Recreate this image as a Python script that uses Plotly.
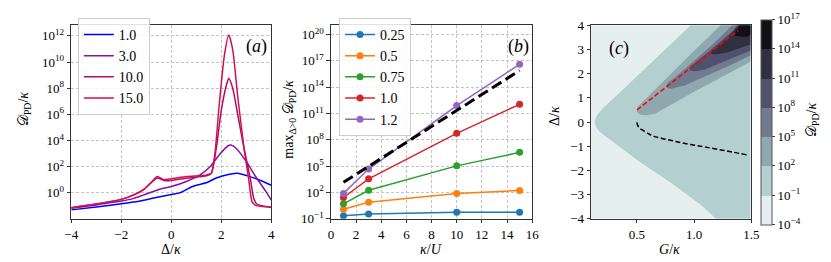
import plotly.graph_objects as go

W, H = 831, 262

# ---------------- Panel (a) data: log10 of D_PD/kappa vs Delta/kappa ----------------
a_labels = ["1.0", "3.0", "10.0", "15.0"]
a_colors = ["#0000ff", "#8a12a0", "#b40a70", "#d2104f"]
a_x_1 = [-4, -3, -2, -1.5, -1, -0.5, 0, 0.3, 0.4, 0.6, 0.8, 1.0, 1.4, 1.8, 2.2, 2.65, 3.05, 3.5, 4.0]
a_log_1 = [-1.30, -1.08, -0.84, -0.70, -0.52, -0.32, -0.12, -0.02, 0.05, 0.25, 0.45, 0.58, 0.77, 1.13, 1.37, 1.49, 1.30, 1.0, 0.58]
a_x_3 = [-4, -3, -2, -1.5, -1.08, -0.43, 0, 0.63, 1.15, 1.54, 1.93, 2.26, 2.39, 2.59, 2.98, 3.37, 3.76, 4.0]
a_log_3 = [-1.18, -0.92, -0.63, -0.42, -0.14, 0.29, 0.48, 0.89, 1.37, 1.97, 2.93, 3.58, 3.65, 3.41, 2.45, 1.25, 0.17, -0.55]
a_x_10 = [-4, -3, -2, -1.48, -1.08, -0.76, -0.56, -0.3, 0, 0.63, 1.41, 1.6, 1.8, 2.0, 2.2, 2.3, 2.46, 2.65, 2.91, 3.17, 3.3, 3.43, 4.0]
a_log_10 = [-1.13, -0.85, -0.5, -0.14, 0.29, 0.85, 1.13, 0.95, 0.94, 1.13, 1.30, 1.49, 3.41, 6.3, 8.2, 8.75, 7.98, 6.06, 3.41, 1.0, -0.43, -0.87, -1.1]
a_x_15 = [-4, -3, -2, -1.48, -1.08, -0.76, -0.56, -0.3, 0, 0.63, 1.41, 1.6, 1.74, 1.93, 2.13, 2.3, 2.46, 2.65, 2.91, 3.1, 3.23, 3.37, 4.0]
a_log_15 = [-1.13, -0.85, -0.5, -0.14, 0.29, 0.89, 1.25, 1.0, 1.08, 1.25, 1.37, 1.49, 2.93, 7.0, 10.6, 12.07, 10.9, 7.5, 3.41, 1.0, -0.67, -0.96, -1.1]
a_ticks = [0, 2, 4, 6, 8, 10, 12]

# ---------------- Panel (b) data: log10 of max D_PD/kappa vs kappa/U ----------------
b_x = [1, 3, 10, 15]
b_labels = ["0.25", "0.5", "0.75", "1.0", "1.2"]
b_colors = ["#1f77b4", "#ff7f0e", "#2ca02c", "#d62728", "#9467bd"]
b_log_025 = [-0.68, -0.46, -0.28, -0.28]
b_log_05 = [0.08, 0.87, 1.88, 2.2]
b_log_075 = [0.69, 2.24, 5.02, 6.56]
b_log_10 = [1.41, 3.54, 8.73, 12.04]
b_log_12 = [1.88, 4.66, 11.9, 16.6]
b_fit_x = [1, 15]
b_fit_log = [3.14, 15.9]
b_ticks = [-1, 2, 5, 8, 11, 14, 17, 20]

# ---------------- Panel (c) data: contour band boundaries (G/kappa, Delta/kappa) ----------------
c_levels = [-4, -1, 2, 5, 8, 11, 14, 17]
c_colors = ["#e6efef", "#b4cfcf", "#8fa7af", "#707b8f", "#50506f", "#303042", "#101016"]
c_band1_G = [0.1, 1.49, 1.49, 0.1]
c_band1_D = [-4, -4, 4, 4]
c_band2_G = [0.97, 0.80, 0.60, 0.40, 0.20, 0.16, 0.14, 0.13, 0.14, 0.16, 0.20, 0.257, 0.514, 0.80, 1.057, 1.19, 1.49, 1.49]
c_band2_D = [4.0, 3.24, 2.35, 1.45, 0.55, 0.33, 0.17, 0.0, -0.17, -0.33, -0.50, -0.70, -1.61, -2.52, -3.43, -4.0, -4.0, 4.0]
c_band3_G = [0.58, 0.53, 0.505, 0.50, 0.51, 0.75, 1.0, 1.23, 1.49, 1.49, 1.286, 1.0, 0.657]
c_band3_D = [0.28, 0.30, 0.38, 0.5, 0.64, 1.78, 2.95, 4.0, 4.0, 2.49, 1.97, 1.25, 0.34]
c_band4_G = [0.80, 0.77, 0.755, 0.77, 0.857, 1.143, 1.286, 1.33, 1.49, 1.49, 1.286, 0.915]
c_band4_D = [1.38, 1.40, 1.5, 1.62, 1.95, 3.14, 3.79, 4.0, 4.0, 2.75, 2.29, 1.51]
c_band5_G = [1.0, 0.97, 0.955, 0.97, 1.143, 1.343, 1.37, 1.49, 1.49, 1.286, 1.086]
c_band5_D = [2.10, 2.12, 2.2, 2.32, 2.98, 3.8, 4.0, 4.0, 2.95, 2.55, 2.16]
c_band6_G = [1.2, 1.16, 1.14, 1.16, 1.286, 1.39, 1.49, 1.49, 1.286]
c_band6_D = [2.80, 2.80, 2.86, 2.98, 3.47, 4.0, 4.0, 3.21, 2.88]
c_band7_G = [1.40, 1.36, 1.34, 1.36, 1.40, 1.49, 1.49, 1.457]
c_band7_D = [3.54, 3.57, 3.63, 3.75, 4.0, 4.0, 3.6, 3.53]
c_red_G = [0.5, 1.386]
c_red_D = [0.50, 3.79]
c_blk_G = [0.5, 0.505, 0.52, 0.543, 0.6, 0.643, 0.72, 0.814, 0.9, 1.014, 1.1, 1.214, 1.33, 1.457]
c_blk_D = [-0.02, -0.12, -0.24, -0.32, -0.48, -0.58, -0.68, -0.78, -0.87, -0.97, -1.04, -1.14, -1.24, -1.36]

FONT = "Liberation Serif, DejaVu Serif, Times New Roman, serif"
DPD = "𝒟<sub>PD</sub>/<i>κ</i>"

fig = go.Figure()

# ---- panel (a)
for lab, col, xs, ls in zip(a_labels, a_colors, [a_x_1, a_x_3, a_x_10, a_x_15],
                            [a_log_1, a_log_3, a_log_10, a_log_15]):
    fig.add_trace(go.Scatter(x=xs, y=[10.0 ** v for v in ls], mode="lines", name=lab,
                             line=dict(color=col, width=1.5, shape="spline", smoothing=0.6),
                             xaxis="x", yaxis="y", legend="legend"))

# ---- panel (b)
for lab, col, ls in zip(b_labels, b_colors, [b_log_025, b_log_05, b_log_075, b_log_10, b_log_12]):
    fig.add_trace(go.Scatter(x=b_x, y=[10.0 ** v for v in ls], mode="lines+markers", name=lab,
                             line=dict(color=col, width=1.5), marker=dict(color=col, size=7),
                             xaxis="x2", yaxis="y2", legend="legend2"))
fig.add_trace(go.Scatter(x=b_fit_x, y=[10.0 ** v for v in b_fit_log], mode="lines", showlegend=False,
                         line=dict(color="black", width=3, dash="11px,5px"), xaxis="x2", yaxis="y2"))

# ---- panel (c)
bands = [(c_band1_G, c_band1_D), (c_band2_G, c_band2_D), (c_band3_G, c_band3_D), (c_band4_G, c_band4_D),
         (c_band5_G, c_band5_D), (c_band6_G, c_band6_D), (c_band7_G, c_band7_D)]
for (gs, ds), col in zip(bands, c_colors):
    fig.add_trace(go.Scatter(x=gs, y=ds, mode="lines", fill="toself", fillcolor=col,
                             line=dict(width=0, color=col), showlegend=False, hoverinfo="skip",
                             xaxis="x3", yaxis="y3"))
fig.add_trace(go.Scatter(x=c_red_G, y=c_red_D, mode="lines", showlegend=False,
                         line=dict(color="#ff0000", width=1.5, dash="5px,2.5px"), xaxis="x3", yaxis="y3"))
fig.add_trace(go.Scatter(x=c_blk_G, y=c_blk_D, mode="lines", showlegend=False,
                         line=dict(color="black", width=1.5, dash="5px,2.5px", shape="spline"),
                         xaxis="x3", yaxis="y3"))

# colorbar via off-range dummy markers
nb = len(c_colors)
cscale = []
for i, col in enumerate(c_colors):
    cscale.append([i / nb, col])
    cscale.append([(i + 1) / nb, col])
fig.add_trace(go.Scatter(x=[-10, -10], y=[0, 0], mode="markers", showlegend=False, hoverinfo="skip",
                         marker=dict(color=[c_levels[0], c_levels[-1]], colorscale=cscale,
                                     cmin=c_levels[0], cmax=c_levels[-1], size=1,
                                     colorbar=dict(x=760 / W, xanchor="left", xpad=0, ypad=0,
                                                   y=1 - 113.5 / H, yanchor="middle",
                                                   len=205, lenmode="pixels", thickness=11,
                                                   thicknessmode="pixels",
                                                   outlinewidth=1, outlinecolor="#555555",
                                                   tickmode="array", tickvals=c_levels,
                                                   ticktext=["10<sup>%s</sup>" % (str(v).replace("-", "−")) for v in c_levels],
                                                   ticks="outside", ticklen=3, tickwidth=0.8,
                                                   tickfont=dict(family=FONT, size=13, color="black"))),
                         xaxis="x3", yaxis="y3"))

ydom = [1 - 216 / H, 1 - 11 / H]
axis_common = dict(showline=True, mirror=True, linecolor="#333333", linewidth=1, ticks="outside",
                   ticklen=3.5, tickwidth=0.8, tickcolor="#333333",
                   tickfont=dict(family=FONT, size=13, color="black"), zeroline=False)
grid = dict(showgrid=True, gridcolor="#c4c4c4", gridwidth=0.8, griddash="3px,2px")

def logtext(vals):
    return ["10<sup>%s</sup>" % str(v).replace("-", "−") for v in vals]

fig.update_layout(
    width=W, height=H, margin=dict(l=0, r=0, t=0, b=0),
    paper_bgcolor="white", plot_bgcolor="white",
    font=dict(family=FONT, size=13, color="black"),
    xaxis=dict(domain=[57.3 / W, 261 / W], range=[-4, 4], tickvals=[-4, -2, 0, 2, 4], anchor="y",
               **axis_common, **grid),
    yaxis=dict(domain=ydom, type="log", range=[-1.97, 12.8], tickvals=[10.0 ** v for v in a_ticks],
               ticktext=logtext(a_ticks), anchor="x", **axis_common, **grid),
    xaxis2=dict(domain=[321.7 / W, 526.7 / W], range=[0, 16], tickvals=list(range(0, 17, 2)),
                anchor="y2", **axis_common, **grid),
    yaxis2=dict(domain=ydom, type="log", range=[-1, 21.05], tickvals=[10.0 ** v for v in b_ticks],
                ticktext=logtext(b_ticks), anchor="x2", **axis_common, **grid),
    xaxis3=dict(domain=[586.7 / W, 750 / W], range=[0.1, 1.5], tickvals=[0.5, 1.0, 1.5],
                ticktext=["0.5", "1.0", "1.5"], anchor="y3", showgrid=False, **axis_common),
    yaxis3=dict(domain=ydom, range=[-4, 4], tickvals=list(range(-4, 5)), anchor="x3",
                showgrid=False, **axis_common),
    legend=dict(x=64 / W, y=1 - 3 / H, xanchor="left", yanchor="top", bgcolor="rgba(255,255,255,0.85)",
                bordercolor="#cccccc", borderwidth=1, font=dict(family=FONT, size=14)),
    legend2=dict(x=330 / W, y=1 - 3 / H, xanchor="left", yanchor="top", bgcolor="rgba(255,255,255,0.85)",
                 bordercolor="#cccccc", borderwidth=1, font=dict(family=FONT, size=14)),
)

def ann(text, px, py, size=14, angle=0, xanchor="center"):
    fig.add_annotation(text=text, x=px / W, y=1 - py / H, xref="paper", yref="paper",
                       showarrow=False, textangle=angle, xanchor=xanchor, yanchor="middle",
                       font=dict(family=FONT, size=size, color="black"))

ann("Δ/<i>κ</i>", 159.3, 249)
ann(DPD, 9, 100, angle=-90)
ann("<i>κ</i>/<i>U</i>", 423.3, 249)
ann("max<sub>Δ>0</sub> " + DPD, 280, 110, angle=-90)
ann("<i>G</i>/<i>κ</i>", 666.7, 249)
ann("Δ/<i>κ</i>", 550, 107, angle=-90)
ann(DPD, 812, 111, angle=-90)
ann("(<i>a</i>)", 259, 33, size=18, xanchor="right")
ann("(<i>b</i>)", 525, 33, size=18, xanchor="right")
ann("(<i>c</i>)", 615, 36, size=18)

fig.write_html("out.html")
